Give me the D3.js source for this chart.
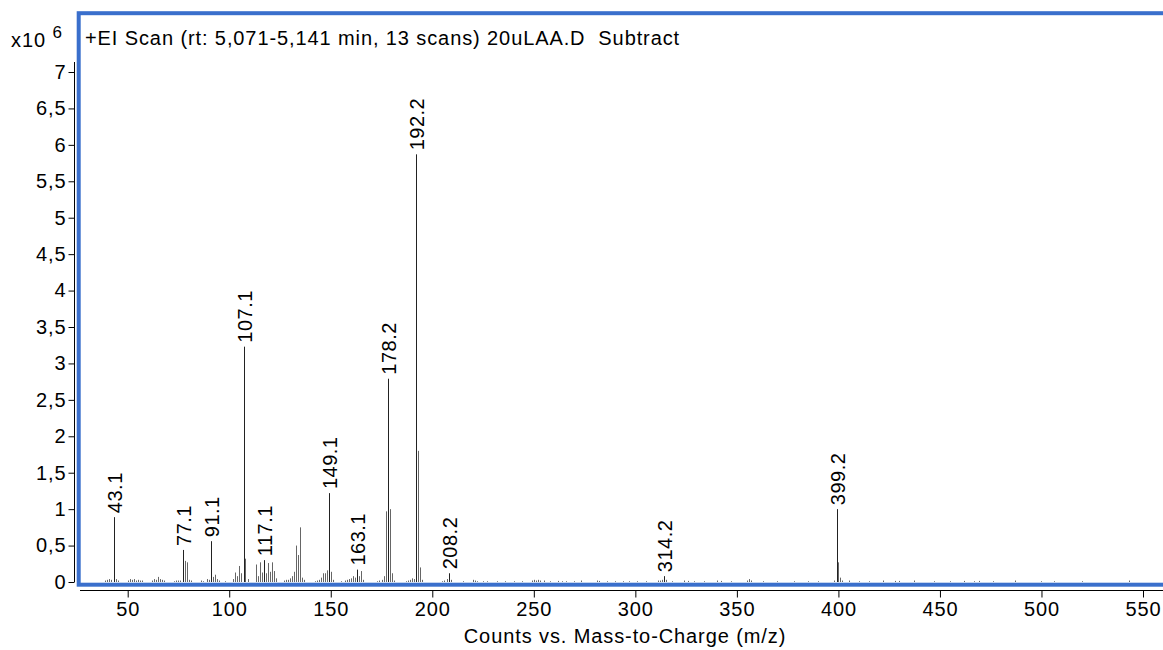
<!DOCTYPE html>
<style>
    body {
        margin: 0;
        background: #fff;
        font-family: "Liberation Sans", Arial, Helvetica, sans-serif;
    }
    text {
        letter-spacing: 0.9px;
    }
    .axis text {
        font-size: 20px;
        fill: #000;
    }
</style>

<svg width="1163" height="650"></svg>
<script src="https://d3js.org/d3.v7.min.js"></script>
<script>

    // peak list, intensities in units of 10^6 counts
    var mz = [39, 40, 41, 42, 43.1, 44, 45,
        50, 51, 52, 53, 54, 55, 56, 57,
        62, 63, 64, 65, 66, 67, 68,
        73, 74, 75, 76, 77.1, 78, 79, 80, 81,
        86, 87, 89, 90, 91.1, 92, 93, 94, 95,
        98, 102, 103, 104, 105, 106, 107.1, 108, 109,
        113, 114, 115, 116, 117.1, 118, 119, 120, 121, 122, 123,
        127, 128, 129, 130, 131, 132, 133, 134, 135, 136, 137,
        142, 143, 144, 145, 146, 147, 148, 149.1, 150, 151,
        155, 157, 158, 159, 160, 161, 162, 163.1, 164, 165, 166,
        173, 174, 175, 176, 177, 178.2, 179, 180, 181,
        187, 188, 189, 190, 191, 192.2, 193, 194, 195,
        205, 206, 207, 208.2, 209,
        215, 220, 221, 222, 225, 227, 232, 236, 240, 244, 249, 250, 251, 252, 253, 255,
        258, 262, 264, 266, 270, 273, 281, 282, 286, 290, 294, 297, 301, 305,
        311, 312, 313, 314.2, 315, 318, 324, 326, 329, 334, 340, 342, 347,
        355, 356, 357, 363, 370, 378, 385, 390,
        398, 399.2, 400, 401, 402, 405, 410, 415, 422, 428, 430, 437, 447, 455,
        462, 467, 469, 476, 487, 500, 506, 520, 543];

    var intensity = [0.02, 0.03, 0.04, 0.03, 0.89, 0.04, 0.02,
        0.02, 0.04, 0.03, 0.04, 0.02, 0.03, 0.02, 0.02,
        0.02, 0.04, 0.03, 0.07, 0.04, 0.03, 0.02,
        0.01, 0.02, 0.02, 0.02, 0.44, 0.29, 0.27, 0.03, 0.02,
        0.02, 0.01, 0.04, 0.03, 0.56, 0.07, 0.10, 0.04, 0.02,
        0.01, 0.04, 0.13, 0.08, 0.22, 0.12, 3.23, 0.32, 0.04,
        0.24, 0.08, 0.27, 0.13, 0.30, 0.12, 0.26, 0.14, 0.27, 0.15, 0.05,
        0.02, 0.03, 0.03, 0.05, 0.08, 0.14, 0.50, 0.37, 0.75, 0.06, 0.03,
        0.01, 0.02, 0.03, 0.06, 0.12, 0.12, 0.16, 1.22, 0.14, 0.03,
        0.01, 0.02, 0.03, 0.04, 0.05, 0.08, 0.06, 0.17, 0.08, 0.15, 0.03,
        0.01, 0.02, 0.03, 0.08, 0.97, 2.79, 1.00, 0.12, 0.02,
        0.01, 0.02, 0.03, 0.05, 0.04, 5.87, 1.80, 0.20, 0.03,
        0.01, 0.02, 0.04, 0.12, 0.03,
        0.01, 0.03, 0.02, 0.01, 0.01, 0.01, 0.01, 0.01, 0.01, 0.01, 0.02, 0.03, 0.02, 0.03, 0.02, 0.02,
        0.01, 0.015, 0.01, 0.01, 0.01, 0.02, 0.02, 0.015, 0.01, 0.01, 0.01, 0.01, 0.01, 0.01,
        0.02, 0.02, 0.03, 0.08, 0.03, 0.01, 0.02, 0.015, 0.01, 0.01, 0.02, 0.015, 0.01,
        0.02, 0.04, 0.02, 0.01, 0.01, 0.01, 0.01, 0.01,
        0.02, 1.00, 0.27, 0.06, 0.02, 0.02, 0.01, 0.01, 0.02, 0.015, 0.015, 0.02, 0.01, 0.01,
        0.015, 0.01, 0.015, 0.01, 0.02, 0.01, 0.01, 0.01, 0.02];

    var labelled = [43.1, 77.1, 91.1, 107.1, 117.1, 149.1, 163.1, 178.2, 192.2, 208.2, 314.2, 399.2];

    var xTicks = [50, 100, 150, 200, 250, 300, 350, 400, 450, 500, 550];
    var yTicks = [0, 0.5, 1, 1.5, 2, 2.5, 3, 3.5, 4, 4.5, 5, 5.5, 6, 6.5, 7];

    var svg = d3.select("svg");
    var comma = d3.formatLocale({decimal: ",", thousands: ".", grouping: [3], currency: ["", ""]}).format("~g");

    var x = d3.scaleLinear().domain([50, 550]).range([127.7, 1143]);
    var y = d3.scaleLinear().domain([0, 7]).range([582, 72]);

    var peaks = mz.map(function(d, i) { return {mz: d, v: intensity[i]}; });

    svg.append("clipPath").attr("id", "plot")
        .append("rect").attr("x", 80).attr("y", 15).attr("width", 1090).attr("height", 568);

    var g = svg.append("g").attr("clip-path", "url(#plot)");

    g.selectAll("line.peak")
        .data(peaks)
        .enter().append("line")
        .attr("class", "peak")
        .attr("x1", function(d) { return Math.round(x(d.mz)) + 0.5; })
        .attr("x2", function(d) { return Math.round(x(d.mz)) + 0.5; })
        .attr("y1", y(0))
        .attr("y2", function(d) { return y(d.v); })
        .attr("stroke", function(d) { return labelled.indexOf(d.mz) >= 0 ? "#222" : "#666"; })
        .attr("stroke-width", 1);

    // peak labels
    g.selectAll("text.lab")
        .data(peaks.filter(function(d) { return labelled.indexOf(d.mz) >= 0; }))
        .enter().append("text")
        .attr("class", "lab")
        .attr("transform", function(d) {
            return "translate(" + (Math.round(x(d.mz)) + 0.5) + "," + (y(d.v) - 4) + ") rotate(-90)";
        })
        .attr("dy", "0.35em")
        .attr("font-size", 20)
        .style("letter-spacing", "0.5px")
        .attr("fill", "#000")
        .text(function(d) { return d3.format(".1f")(d.mz); });

    // blue frame
    svg.append("rect")
        .attr("x", 78.7)
        .attr("y", 13.2)
        .attr("width", 1100)
        .attr("height", 571.5)
        .attr("fill", "none")
        .attr("stroke", "#3a6fcc")
        .attr("stroke-width", 4);

    // y axis
    var yAxis = svg.append("g")
        .attr("class", "axis")
        .attr("transform", "translate(74.5,0)")
        .call(d3.axisLeft(y).tickValues(yTicks).tickSize(6).tickSizeOuter(0).tickFormat(comma));
    yAxis.select(".domain").attr("d", "M0,62V582");
    yAxis.selectAll("text").attr("x", -8);

    // x axis
    var xAxis = svg.append("g")
        .attr("class", "axis")
        .attr("transform", "translate(0,590.5)")
        .call(d3.axisBottom(x).tickValues(xTicks).tickSize(7).tickSizeOuter(0));
    xAxis.select(".domain").attr("d", "M80,0H1163");
    xAxis.selectAll("text").attr("y", 11);

    svg.append("text")
        .attr("x", 625)
        .attr("y", 643)
        .attr("text-anchor", "middle")
        .attr("font-size", 20)
        .text("Counts vs. Mass-to-Charge (m/z)");

    svg.append("text")
        .attr("x", 85)
        .attr("y", 45)
        .attr("font-size", 20)
        .style("white-space", "pre")
        .text("+EI Scan (rt: 5,071-5,141 min, 13 scans) 20uLAA.D  Subtract");

    var mult = svg.append("text").attr("x", 11).attr("y", 47).attr("font-size", 20);
    mult.append("tspan").text("x10 ");
    mult.append("tspan").attr("dy", -9).attr("font-size", 17).text("6");

</script>
